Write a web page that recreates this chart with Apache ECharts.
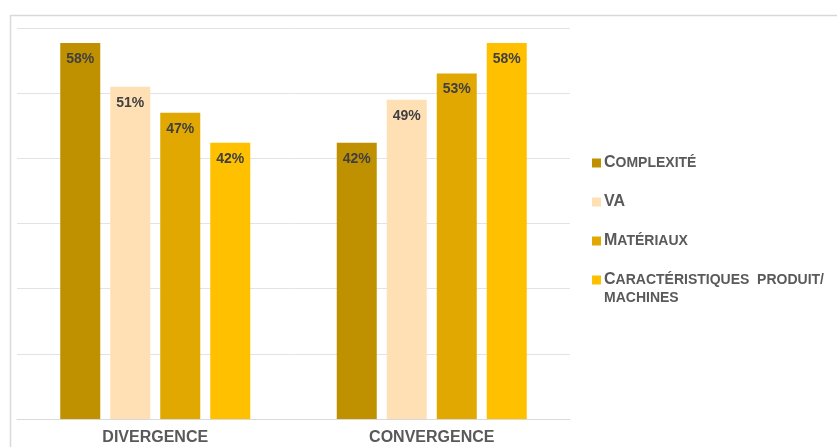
<!DOCTYPE html>
<html><head><meta charset="utf-8">
<script src="https://cdn.jsdelivr.net/npm/echarts@6/dist/echarts.min.js"></script>
<style>html,body{margin:0;padding:0;background:#fff}#c{width:837px;height:447px}</style>
</head><body><div id="c"></div>
<script>
const categories = ['DIVERGENCE', 'CONVERGENCE'];
const seriesNames = ['Complexité', 'VA', 'Matériaux', 'Caractéristiques produit/ machines'];
const complexite = [57.7, 42.4];
const va = [51, 49];
const materiaux = [47, 53];
const caracteristiques = [42.4, 57.7];
const yTicks = [0, 10, 20, 30, 40, 50, 60];

const colors = ['#BF9000', '#FFE0B4', '#E0A800', '#FFC000'];
const values = [complexite, va, materiaux, caracteristiques];

const chart = echarts.init(document.getElementById('c'), null, {renderer: 'canvas'});
const legendFmt = {
  'Complexité': '{a|C}{b|OMPLEXITÉ}',
  'VA': '{a|VA}',
  'Matériaux': '{a|M}{b|ATÉRIAUX}',
  'Caractéristiques produit/ machines': '{a|C}{b|ARACTÉRISTIQUES  PRODUIT/}'
};
const F = 'Liberation Sans, Arial';
chart.setOption({
  animation: false,
  graphic: [{
    type: 'rect', left: 8, top: 13, shape: {width: 840, height: 450},
    style: {fill: 'none', stroke: '#D9D9D9', lineWidth: 1.5}, z: -1
  }, {
    type: 'text', left: 604, top: 291,
    style: {text: 'MACHINES', fill: '#595959', font: 'bold 14px Liberation Sans, Arial'}
  }],
  grid: {left: 17, right: 267, top: 28, bottom: 28},
  legend: {
    orient: 'vertical', left: 587, top: 150, itemWidth: 9, itemHeight: 9, itemGap: 23,
    icon: 'rect',
    data: seriesNames,
    formatter: n => legendFmt[n],
    textStyle: {
      color: '#595959', fontFamily: F, fontWeight: 'bold', padding: [0, 0, 0, -2],
      rich: {
        a: {fontSize: 16, fontWeight: 'bold', color: '#595959', fontFamily: F, lineHeight: 20},
        b: {fontSize: 14, fontWeight: 'bold', color: '#595959', fontFamily: F, lineHeight: 20}
      }
    }
  },
  xAxis: {
    type: 'category', data: categories,
    axisLine: {lineStyle: {color: '#D9D9D9'}}, axisTick: {show: false},
    axisLabel: {color: '#595959', fontSize: 16, fontWeight: 'bold', fontFamily: F, margin: 11}
  },
  yAxis: {
    type: 'value', min: yTicks[0], max: yTicks[yTicks.length - 1], interval: 10,
    axisLabel: {show: false}, axisLine: {show: false}, axisTick: {show: false},
    splitLine: {lineStyle: {color: '#E3E3E3'}}
  },
  series: seriesNames.map((n, i) => ({
    name: n, type: 'bar', data: values[i], barWidth: 40, barGap: '25%',
    itemStyle: {color: colors[i]},
    label: {
      show: true, position: 'insideTop', distance: 9,
      formatter: p => Math.round(p.value) + '%',
      color: '#404040', fontSize: 14, fontWeight: 'bold', fontFamily: F
    }
  }))
});
</script></body></html>
